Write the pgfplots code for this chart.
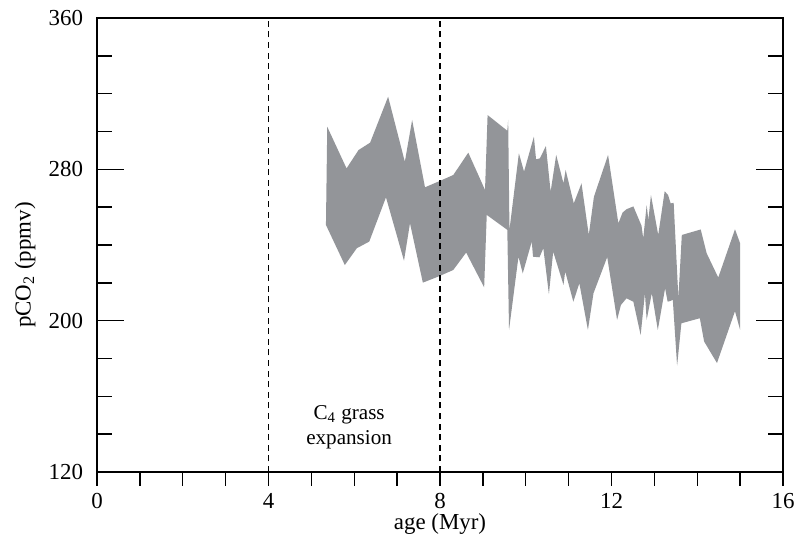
\documentclass[border=0pt]{standalone}
\usepackage{pgfplots}
\pgfplotsset{compat=1.18}
\usepackage{fontspec}
\setmainfont{Liberation Serif}
\definecolor{bandgray}{RGB}{147,149,153}
\begin{document}
\begin{tikzpicture}[font=\fontsize{11.5}{13.8}\selectfont]
\begin{axis}[
  scale only axis, width=343bp, height=227bp,
  xmin=0, xmax=16, ymin=120, ymax=360,
  xtick={0,4,8,12,16},
  minor xtick={1,2,3,5,6,7,9,10,11,13,14,15},
  xtick pos=bottom,
  tick align=outside,
  major tick length=7bp, minor tick length=7bp,
  ytick=\empty,
  axis line style={line width=0.7bp, black},
  tick style={line width=0.7bp, black},
  /pgf/number format/assume math mode=true,
  xticklabel style={yshift=0bp},
  xlabel={age (Myr)},
  x label style={at={([yshift=-26bp]axis description cs:0.5,0)}, anchor=center},
]
\addplot[fill=bandgray, draw=none] coordinates {
(5.37,302.5) (5.82,280.5) (6.10,290.2) (6.37,294.1) (6.79,318.4) (7.18,284.0)
(7.35,306.1) (7.65,270.5) (7.96,273.5) (8.31,277.0) (8.66,288.8) (9.05,269.1)
(9.11,308.7) (9.57,300.4) (9.59,306.1) (9.62,248.0) (9.84,288.5) (9.96,278.8)
(10.19,297.3) (10.24,285.3) (10.33,285.8) (10.47,292.3) (10.58,268.2) (10.71,287.6)
(10.88,272.6) (10.93,279.7) (11.12,262.0) (11.30,272.6) (11.47,245.3) (11.59,265.5)
(11.92,287.6) (12.16,251.5) (12.26,257.2) (12.35,258.9) (12.51,260.4) (12.70,250.2)
(12.74,243.5) (12.82,261.1) (12.86,253.2) (12.92,266.4) (13.09,245.3) (13.24,268.4)
(13.32,266.4) (13.38,262.0) (13.45,262.3) (13.56,212.0) (13.64,245.3) (14.08,248.2)
(14.22,235.6) (14.49,222.8) (14.88,248.3) (15.00,240.9)
(15.00,195.1) (14.88,205.0) (14.46,177.6) (14.16,189.0) (14.06,201.3) (13.63,198.6)
(13.53,176.2) (13.43,211.0) (13.38,210.5) (13.31,210.0) (13.25,217.1) (13.08,195.1)
(12.94,214.5) (12.82,200.4) (12.78,214.5) (12.68,192.4) (12.51,210.0) (12.35,211.8)
(12.22,208.3) (12.13,200.4) (11.90,233.6) (11.58,214.5) (11.45,195.1) (11.25,219.8)
(11.11,210.0) (10.92,226.0) (10.88,218.9) (10.64,236.5) (10.54,214.0) (10.41,238.3)
(10.32,233.5) (10.17,233.8) (10.14,241.8) (9.93,225.0) (9.83,233.8) (9.61,195.1)
(9.57,248.0) (9.09,255.9) (9.03,217.6) (8.61,236.0) (8.31,226.8) (7.96,223.3)
(7.60,220.1) (7.30,251.5) (7.16,231.7) (6.74,265.2) (6.35,241.8) (6.06,238.3)
(5.78,229.4) (5.34,250.6)
} -- cycle;
\addplot[black, line width=0.9bp, dash pattern=on 3bp off 2.3bp] coordinates {(4,120) (4,360)};
\addplot[black, line width=0.9bp, dash pattern=on 3bp off 2.3bp] coordinates {(8,120) (8,360)};
\node[align=center, font=\fontsize{10.6}{12.5}\selectfont] at (axis cs:5.88,143.8) {C\textsubscript{4} grass\\expansion};
\coordinate (sw) at (rel axis cs:0,0);
\coordinate (ne) at (rel axis cs:1,1);
\end{axis}
\begin{axis}[
  scale only axis, width=343bp, height=227bp,
  xmin=0, xmax=16, ymin=120, ymax=360,
  hide x axis,
  ytick={120,200,280,360},
  minor ytick={140,160,180,220,240,260,300,320,340},
  ytick pos=both, yticklabel pos=left,
  tick align=inside,
  major tick length=13.5bp, minor tick length=7.5bp,
  axis line style={line width=0.7bp, black},
  tick style={line width=0.7bp, black},
  /pgf/number format/assume math mode=true,
  yticklabel style={xshift=-3.5bp},
  ylabel={pCO\textsubscript{2} (ppmv)},
  y label style={at={([xshift=-36bp,yshift=-10bp]axis description cs:0,0.5)}, anchor=center},
]
\end{axis}
\pgfresetboundingbox
\path[use as bounding box] ([shift={(-48.5bp,-35.5bp)}]sw) rectangle ([shift={(6.5bp,9bp)}]ne);
\end{tikzpicture}
\end{document}
